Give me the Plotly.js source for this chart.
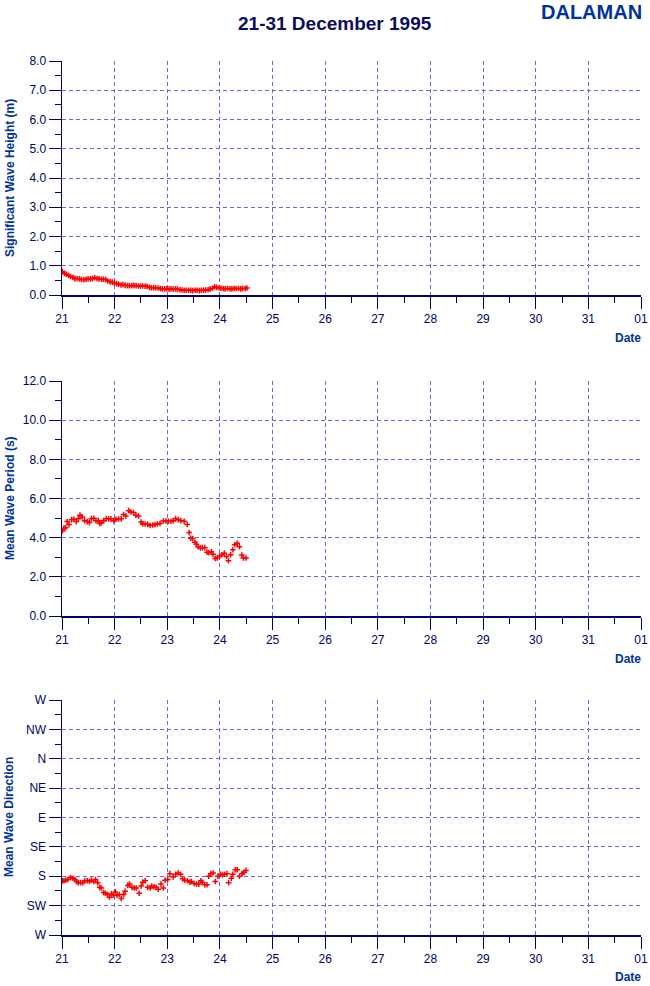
<!DOCTYPE html>
<html><head><meta charset="utf-8">
<script src="https://cdn.plot.ly/plotly-3.0.1.min.js"></script>
<style>html,body{margin:0;padding:0;background:#fff}#chart{width:650px;height:986px}</style>
</head><body><div id="chart"></div>
<script>
// Hours since 21 Dec 1995 00:00 and readings
const hoursH = [0.2,1.1,2.0,3.0,3.9,5.0,5.9,6.9,8.0,8.9,10.0,11.0,11.9,13.0,13.9,14.9,16.0,16.9,18.0,18.9,19.9,20.8,21.9,22.9,23.9,24.9,25.8,26.9,27.8,28.8,29.9,30.8,31.9,32.8,33.8,34.9,35.8,36.8,37.9,38.8,39.9,40.8,41.8,42.7,43.8,44.8,45.7,46.8,47.7,48.8,49.7,50.7,51.8,52.7,53.8,54.7,55.7,56.6,57.7,58.7,59.6,60.7,61.6,62.7,63.6,64.6,65.5,66.6,67.5,68.6,69.6,70.5,71.6,72.5,73.5,74.4,75.5,76.6,77.5,78.5,79.4,80.5,81.5,82.4,83.5,84.3];
const waveHeight = [0.80,0.74,0.71,0.67,0.63,0.60,0.56,0.56,0.55,0.53,0.52,0.54,0.55,0.55,0.56,0.59,0.56,0.55,0.54,0.54,0.53,0.48,0.45,0.44,0.41,0.39,0.37,0.34,0.36,0.33,0.32,0.32,0.32,0.33,0.32,0.31,0.31,0.31,0.30,0.30,0.26,0.25,0.25,0.25,0.24,0.22,0.21,0.21,0.21,0.20,0.21,0.20,0.21,0.20,0.18,0.17,0.16,0.16,0.16,0.16,0.15,0.16,0.16,0.15,0.16,0.16,0.17,0.18,0.20,0.23,0.28,0.26,0.24,0.23,0.22,0.21,0.22,0.21,0.21,0.22,0.22,0.22,0.21,0.22,0.22,0.24];

const hoursP = [0.2,0.9,1.7,2.4,3.2,4.4,5.4,6.5,7.4,8.2,9.2,10.3,11.5,12.5,13.4,14.5,15.5,16.5,17.2,18.0,19.0,20.2,21.3,22.3,23.6,24.6,25.8,27.0,28.1,29.1,30.4,31.4,32.6,33.7,34.9,36.1,36.8,37.9,39.1,40.2,41.4,42.4,43.5,44.7,46.2,47.4,48.5,49.7,50.7,51.8,53.0,54.2,55.7,57.1,58.0,58.7,59.6,60.6,61.3,62.1,63.1,64.0,65.1,66.1,66.9,68.1,68.9,69.9,70.8,71.9,72.9,74.0,75.0,75.9,76.9,77.9,78.8,79.9,80.9,82.0,82.7,83.9];
const wavePeriod = [4.34,4.50,4.51,4.82,4.67,4.91,4.94,4.82,4.97,5.15,5.06,4.87,4.82,4.77,4.97,4.99,4.87,4.87,4.72,4.77,4.87,4.97,4.96,4.96,4.87,4.94,4.96,4.96,5.18,5.11,5.38,5.31,5.28,5.15,5.11,4.80,4.70,4.70,4.68,4.62,4.65,4.67,4.70,4.72,4.85,4.85,4.84,4.84,4.87,4.97,4.92,4.87,4.84,4.67,4.26,3.97,3.96,3.76,3.66,3.54,3.47,3.49,3.49,3.26,3.23,3.28,3.15,2.94,2.97,3.06,3.13,3.21,3.04,2.82,3.13,3.38,3.64,3.71,3.54,3.11,2.96,2.96];

const hoursD = [0.2,0.9,1.7,2.7,3.9,5.0,5.9,6.6,7.4,8.5,9.5,10.4,11.5,12.5,13.4,14.5,15.3,16.3,17.2,18.0,19.0,19.8,20.8,21.6,22.5,23.3,24.3,25.1,26.1,27.0,28.1,28.8,30.0,30.8,31.9,32.9,33.8,35.2,36.1,36.8,37.9,39.0,40.2,40.9,42.0,42.9,43.9,45.1,46.2,47.0,48.2,49.2,50.7,51.8,53.0,54.1,55.0,56.0,57.2,58.3,59.0,60.2,61.3,62.4,63.3,64.0,65.1,66.1,66.9,67.8,68.9,69.9,71.1,72.2,73.1,74.1,75.2,76.0,77.2,77.9,79.0,79.9,80.9,82.1,82.9,83.9];
const waveDir = [187,187,186,185,182,183,185,188,190,190,190,187,187,188,186,188,185,190,197,198,205,206,208,212,207,209,204,209,208,214,208,203,194,192,197,198,198,206,195,189,187,197,198,195,196,197,200,192,198,186,185,176,181,177,175,177,184,186,187,189,188,191,192,192,187,189,193,193,180,176,175,188,180,177,178,177,176,190,183,177,170,170,180,176,174,171];

const dirTickVals = [270,225,180,135,90,45,0,-45,-90];
const dirTickText = ['W','SW','S','SE','E','NE','N','NW','W'];

function toDate(h){
  const d = new Date(Date.UTC(1995,11,21) + h*3600000);
  return d.toISOString().slice(0,19).replace('T',' ');
}

const navy = '#000066';
const titleBlue = '#003399';
const gridC = '#6a6ad6';
const FONT = '"Liberation Sans", Arial, sans-serif';
const W = 650, H = 986;
const px = x => x / W;
const py = y => 1 - y / H;

const mk = {symbol:'cross-thin', size:4, color:'#ff0000', line:{color:'#ff0000', width:1.5}};

const traces = [
  {x: hoursH.map(toDate), y: waveHeight, xaxis:'x', yaxis:'y', mode:'lines+markers', line:{color:'#ff0000', width:1}, marker:mk, type:'scatter', hoverinfo:'skip'},
  {x: hoursP.map(toDate), y: wavePeriod, xaxis:'x2', yaxis:'y2', mode:'markers', marker:mk, type:'scatter', hoverinfo:'skip'},
  {x: hoursD.map(toDate), y: waveDir, xaxis:'x3', yaxis:'y3', mode:'markers', marker:mk, type:'scatter', hoverinfo:'skip'}
];

function xAxis(anchor){
  return {
    type:'date', range:['1995-12-21','1996-01-01'], tick0:'1995-12-21', dtick:86400000, tickformat:'%d',
    ticks:'outside', ticklen:12, tickwidth:1, tickcolor:navy,
    showline:true, linecolor:navy, linewidth:1.5,
    showgrid:true, gridcolor:gridC, gridwidth:1, griddash:'4px,3px', zeroline:false,
    tickfont:{family:FONT, size:12, color:navy},
    minor:{tick0:'1995-12-21', dtick:43200000, ticks:'outside', ticklen:6, tickcolor:navy, tickwidth:1, showgrid:false},
    domain:[px(62), px(641)], anchor:anchor, fixedrange:true
  };
}
function yAxis(domainTop, domainBot, extra){
  return Object.assign({
    ticks:'outside', ticklen:12, tickwidth:1, tickcolor:navy,
    showline:true, linecolor:navy, linewidth:1.5,
    showgrid:true, gridcolor:gridC, gridwidth:1, griddash:'4px,3px', zeroline:false,
    tickfont:{family:FONT, size:12, color:navy},
    domain:[py(domainBot), py(domainTop)], fixedrange:true
  }, extra);
}

const layout = {
  width:W, height:H, margin:{l:0, r:0, t:0, b:0},
  paper_bgcolor:'#ffffff', plot_bgcolor:'#ffffff', showlegend:false,
  xaxis: xAxis('y'), xaxis2: xAxis('y2'), xaxis3: xAxis('y3'),
  yaxis: yAxis(61, 295, {anchor:'x', range:[0,8], dtick:1, tick0:0, tickformat:'.1f',
    minor:{dtick:0.5, tick0:0, ticks:'outside', ticklen:6, tickcolor:navy, showgrid:false}}),
  yaxis2: yAxis(381, 616, {anchor:'x2', range:[0,12], dtick:2, tick0:0, tickformat:'.1f',
    minor:{dtick:1, tick0:0, ticks:'outside', ticklen:6, tickcolor:navy, showgrid:false}}),
  yaxis3: yAxis(700, 935, {anchor:'x3', range:[270,-90], tickmode:'array', tickvals:dirTickVals, ticktext:dirTickText,
    minor:{tickmode:'linear', dtick:22.5, tick0:0, ticks:'outside', ticklen:6, tickcolor:navy, showgrid:false}}),
  annotations:[
    {text:'<b>21-31 December 1995</b>', x:px(335), y:py(23), xref:'paper', yref:'paper', xanchor:'center', yanchor:'middle', showarrow:false, font:{family:FONT, size:19, color:'#0d0d5e'}},
    {text:'<b>DALAMAN</b>', x:px(644), y:py(12), xref:'paper', yref:'paper', xanchor:'right', yanchor:'middle', showarrow:false, font:{family:FONT, size:20, color:titleBlue}},
    {text:'<b>Significant Wave Height (m)</b>', x:px(10), y:py(178), xref:'paper', yref:'paper', xanchor:'center', yanchor:'middle', textangle:-90, showarrow:false, font:{family:FONT, size:12, color:titleBlue}},
    {text:'<b>Mean Wave Period (s)</b>', x:px(10), y:py(498), xref:'paper', yref:'paper', xanchor:'center', yanchor:'middle', textangle:-90, showarrow:false, font:{family:FONT, size:12, color:titleBlue}},
    {text:'<b>Mean Wave Direction</b>', x:px(9), y:py(817), xref:'paper', yref:'paper', xanchor:'center', yanchor:'middle', textangle:-90, showarrow:false, font:{family:FONT, size:12, color:titleBlue}},
    {text:'<b>Date</b>', x:px(643), y:py(338), xref:'paper', yref:'paper', xanchor:'right', yanchor:'middle', showarrow:false, font:{family:FONT, size:12, color:titleBlue}},
    {text:'<b>Date</b>', x:px(643), y:py(659), xref:'paper', yref:'paper', xanchor:'right', yanchor:'middle', showarrow:false, font:{family:FONT, size:12, color:titleBlue}},
    {text:'<b>Date</b>', x:px(643), y:py(977), xref:'paper', yref:'paper', xanchor:'right', yanchor:'middle', showarrow:false, font:{family:FONT, size:12, color:titleBlue}}
  ]
};

Plotly.newPlot('chart', traces, layout, {staticPlot:true, displayModeBar:false});
</script></body></html>
